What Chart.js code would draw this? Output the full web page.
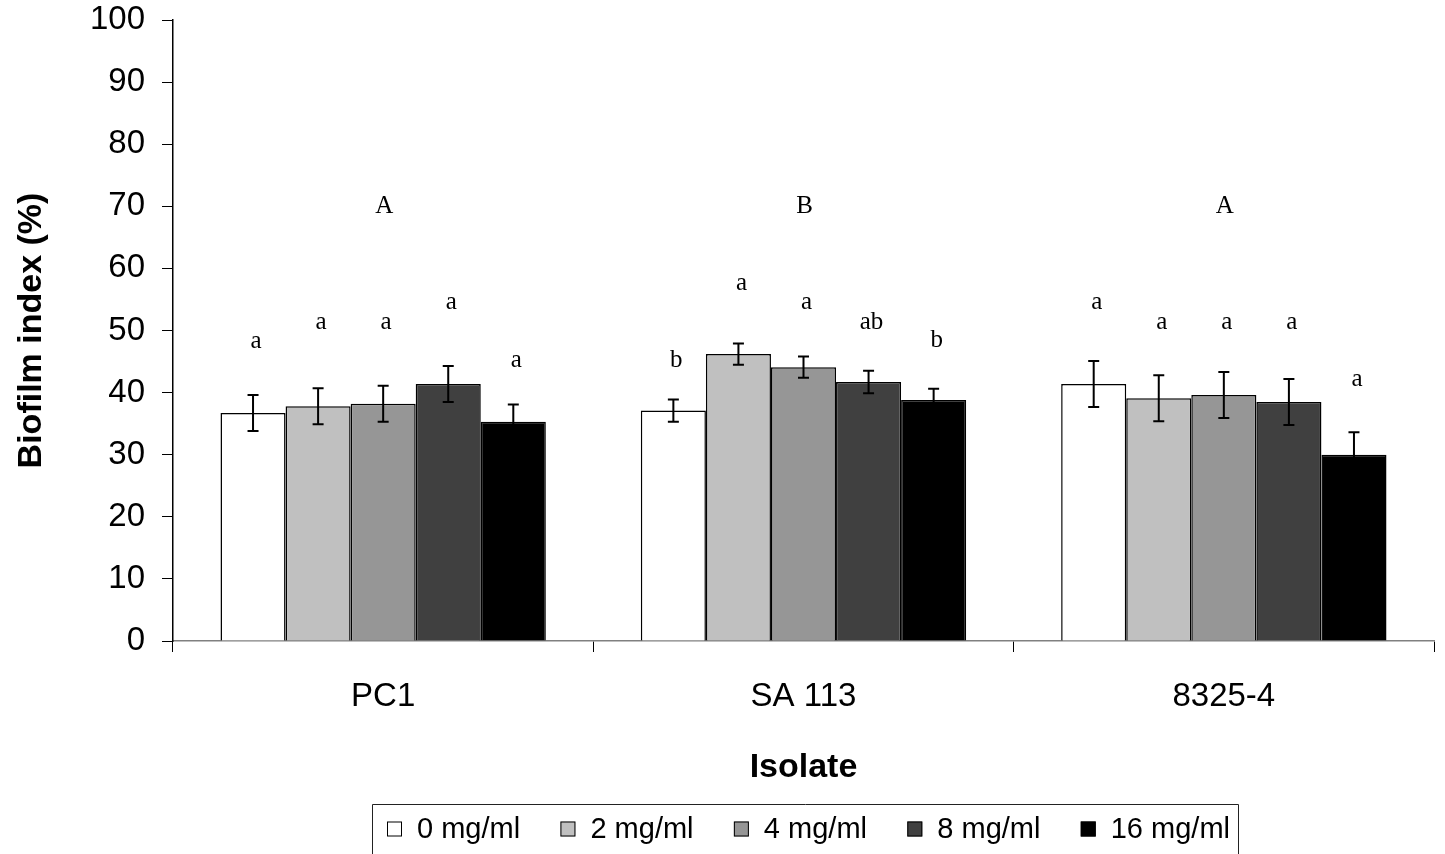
<!DOCTYPE html>
<html>
<head>
<meta charset="utf-8">
<script src="https://cdn.jsdelivr.net/npm/chart.js@4.4.1/dist/chart.umd.min.js"></script>
<style>
  body { margin: 0; background: #fff; }
  canvas { display: block; }
</style>
</head>
<body>
<canvas id="biofilmChart" width="1445" height="854"></canvas>
<script>
// isolates on the x axis
const isolates = ['PC1', 'SA 113', '8325-4'];
// concentrations (one series each)
const doses = ['0 mg/ml', '2 mg/ml', '4 mg/ml', '8 mg/ml', '16 mg/ml'];
const yTicks = [0, 10, 20, 30, 40, 50, 60, 70, 80, 90, 100];

// mean biofilm index (%) per dose, order = isolates
const dose0  = [36.7, 37.1, 41.4];
const dose2  = [37.8, 46.2, 39.1];
const dose4  = [38.2, 44.1, 39.6];
const dose8  = [41.4, 41.7, 38.5];
const dose16 = [35.3, 38.8, 30.0];

// standard error (half height of the error bar)
const err0  = [2.9, 1.8, 3.7];
const err2  = [2.9, 1.7, 3.7];
const err4  = [2.9, 1.7, 3.7];
const err8  = [2.9, 1.8, 3.7];
const err16 = [2.8, 1.8, 3.6];

// significance letters above each bar, and the value they sit at
const letters0  = ['a', 'b', 'a'];
const letters2  = ['a', 'a', 'a'];
const letters4  = ['a', 'a', 'a'];
const letters8  = ['a', 'ab', 'a'];
const letters16 = ['a', 'b', 'a'];
const letterAt0  = [48.2, 45.2, 54.5];
const letterAt2  = [51.3, 57.6, 51.3];
const letterAt4  = [51.3, 54.5, 51.3];
const letterAt8  = [54.5, 51.3, 51.3];
const letterAt16 = [45.1, 48.4, 42.1];

// letters comparing isolates
const groupLetters = ['A', 'B', 'A'];
const groupLetterAt = 70;

const values = [dose0, dose2, dose4, dose8, dose16];
const errors = [err0, err2, err4, err8, err16];
const letters = [letters0, letters2, letters4, letters8, letters16];
const letterAt = [letterAt0, letterAt2, letterAt4, letterAt8, letterAt16];
const colors = ['#ffffff', '#c0c0c0', '#969696', '#404040', '#000000'];

const SANS = '"Liberation Sans", Arial, sans-serif';
const SERIF = '"Liberation Serif", "Times New Roman", serif';

// error bars + letters drawn on top of the bars
const annotations = {
    id: 'annotations',
    afterDatasetsDraw(chart) {
        const ctx = chart.ctx;
        const y = chart.scales.y;
        const x = chart.scales.x;
        ctx.save();
        ctx.strokeStyle = '#000';
        ctx.lineWidth = 2;
        chart.data.datasets.forEach((ds, i) => {
            const meta = chart.getDatasetMeta(i);
            meta.data.forEach((bar, j) => {
                const top = y.getPixelForValue(values[i][j] + errors[i][j]);
                const bot = y.getPixelForValue(values[i][j] - errors[i][j]);
                ctx.beginPath();
                ctx.moveTo(bar.x, top); ctx.lineTo(bar.x, bot);
                ctx.moveTo(bar.x - 5.5, top); ctx.lineTo(bar.x + 5.5, top);
                ctx.moveTo(bar.x - 5.5, bot); ctx.lineTo(bar.x + 5.5, bot);
                ctx.stroke();

                ctx.fillStyle = '#000';
                ctx.font = '25px ' + SERIF;
                ctx.textAlign = 'center';
                ctx.textBaseline = 'middle';
                ctx.fillText(letters[i][j], bar.x + 3, y.getPixelForValue(letterAt[i][j]));
            });
        });
        groupLetters.forEach((t, j) => {
            ctx.fillText(t, x.getPixelForValue(j) + 1, y.getPixelForValue(groupLetterAt));
        });
        ctx.restore();
    }
};

// boxed legend under the axis title
const boxLegend = {
    id: 'boxLegend',
    afterDraw(chart) {
        const ctx = chart.ctx;
        const left = 372, right = 1238, top = 804.5;
        ctx.save();
        ctx.strokeStyle = '#222';
        ctx.lineWidth = 1;
        ctx.beginPath();
        ctx.moveTo(left + 0.5, 860); ctx.lineTo(left + 0.5, top);
        ctx.lineTo(right + 0.5, top); ctx.lineTo(right + 0.5, 860);
        ctx.stroke();

        ctx.font = '29px ' + SANS;
        ctx.textBaseline = 'middle';
        ctx.textAlign = 'left';
        const sq = 15, gapText = 30, first = 387, lastEnd = 1230;
        const widths = chart.data.datasets.map(d => ctx.measureText(d.label).width);
        const used = widths.reduce((a, b) => a + b, 0) + gapText * widths.length;
        const gap = (lastEnd - first - used) / (widths.length - 1);
        let xPos = first;
        const cy = 830;
        chart.data.datasets.forEach((d, i) => {
            ctx.fillStyle = d.backgroundColor;
            ctx.fillRect(xPos, cy - sq / 2 - 1, sq, sq);
            ctx.strokeStyle = '#000';
            ctx.strokeRect(xPos + 0.5, cy - sq / 2 - 0.5, sq - 1, sq - 1);
            ctx.fillStyle = '#000';
            ctx.fillText(d.label, xPos + gapText, cy);
            xPos += gapText + widths[i] + gap;
        });
        ctx.restore();
    }
};

new Chart(document.getElementById('biofilmChart'), {
    type: 'bar',
    data: {
        labels: isolates,
        datasets: doses.map((d, i) => ({
            label: d,
            data: values[i],
            backgroundColor: colors[i],
            borderColor: '#000',
            borderWidth: 1.5,
            categoryPercentage: 0.774,
            barPercentage: 1
        }))
    },
    options: {
        responsive: false,
        animation: false,
        layout: { padding: { top: 20, right: 11, bottom: 0, left: 0 } },
        plugins: {
            legend: { display: false },
            tooltip: { enabled: false }
        },
        scales: {
            x: {
                afterFit(scale) { scale.height = 213; },
                grid: {
                    display: true,
                    drawOnChartArea: false,
                    offset: true,
                    tickLength: 11,
                    color: '#000'
                },
                border: { color: '#808080', width: 1.5 },
                ticks: {
                    color: '#000',
                    padding: 25,
                    font: { family: SANS, size: 33 }
                },
                title: {
                    display: true,
                    text: 'Isolate',
                    color: '#000',
                    font: { family: SANS, size: 34, weight: 'bold', lineHeight: 1.2 },
                    padding: { top: 0, bottom: 66 }
                }
            },
            y: {
                min: 0,
                max: 100,
                afterFit(scale) {
                    scale.width = 173;
                    scale.paddingTop = 0;
                    scale.paddingBottom = 0;
                },
                afterBuildTicks(scale) { scale.ticks = yTicks.map(v => ({ value: v })); },
                grid: {
                    display: true,
                    drawOnChartArea: false,
                    tickLength: 11,
                    color: '#000'
                },
                border: { color: '#000', width: 1.5 },
                ticks: {
                    color: '#000',
                    padding: 17,
                    font: { family: SANS, size: 33 }
                },
                title: {
                    display: true,
                    text: 'Biofilm index (%)',
                    color: '#000',
                    font: { family: SANS, size: 34, weight: 'bold', lineHeight: 1.2 },
                    padding: { top: 11, bottom: 0 }
                }
            }
        }
    },
    plugins: [annotations, boxLegend]
});
</script>
</body>
</html>
